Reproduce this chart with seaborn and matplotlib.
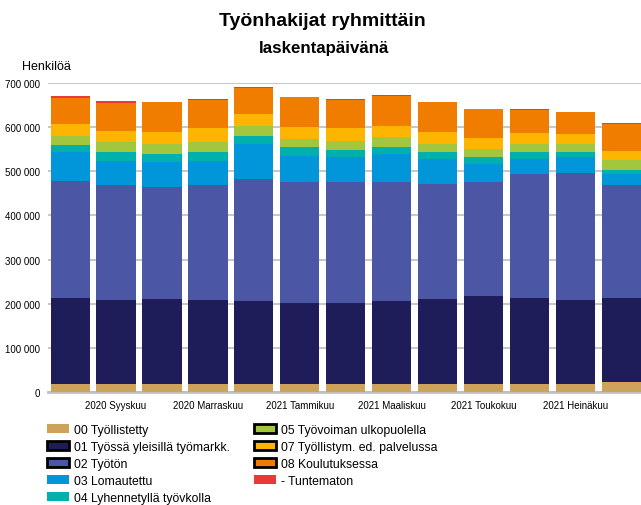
import matplotlib
matplotlib.use("Agg")
import matplotlib.pyplot as plt
from matplotlib.patches import Patch
import seaborn as sns
import numpy as np

# Data (persons)
months = ["2020 Elokuu", "2020 Syyskuu", "2020 Lokakuu", "2020 Marraskuu", "2020 Joulukuu",
          "2021 Tammikuu", "2021 Helmikuu", "2021 Maaliskuu", "2021 Huhtikuu", "2021 Toukokuu",
          "2021 Kesäkuu", "2021 Heinäkuu", "2021 Elokuu"]
tyollistetty = [18800, 18800, 18800, 18800, 18800, 18800, 18800, 18800, 18800, 18800, 18800, 18800, 23300]
yleisilla = [194600, 190200, 192200, 190200, 188200, 183200, 183200, 188200, 192200, 199200, 194200, 190200, 189700]
tyoton = [264600, 260000, 254000, 260000, 275000, 274000, 274000, 269000, 260000, 258000, 281000, 288000, 256000]
lomautettu = [66000, 54000, 56000, 54000, 80000, 59000, 57000, 63000, 57000, 41000, 34000, 36000, 25000]
lyhennetty = [16000, 21000, 18000, 21000, 18000, 20000, 15000, 16000, 16000, 16000, 16000, 11000, 10000]
ulkopuolella = [20000, 22000, 23000, 22000, 23000, 18000, 21000, 23000, 18000, 18000, 18000, 18000, 22000]
palvelussa = [27000, 25000, 27000, 31000, 27000, 27000, 28000, 25000, 27000, 25000, 25000, 23000, 20000]
koulutuksessa = [59000, 64000, 68000, 64000, 59000, 68000, 64000, 67500, 68000, 65000, 52000, 49000, 61000]
tuntematon = [4500, 4000, 500, 2000, 2000, 500, 2000, 2500, 500, 500, 2000, 500, 2000]

series = [
    ("00 Työllistetty", tyollistetty, "#cda35c"),
    ("01 Työssä yleisillä työmarkk.", yleisilla, "#1e1d59"),
    ("02 Työtön", tyoton, "#4b56a4"),
    ("03 Lomautettu", lomautettu, "#0096d9"),
    ("04 Lyhennetyllä työvkolla", lyhennetty, "#00b0ac"),
    ("05 Työvoiman ulkopuolella", ulkopuolella, "#a2c63e"),
    ("07 Työllistym. ed. palvelussa", palvelussa, "#fdb500"),
    ("08 Koulutuksessa", koulutuksessa, "#f07d00"),
    ("- Tuntematon", tuntematon, "#e83a36"),
]
edged = {"01 Työssä yleisillä työmarkk.", "02 Työtön", "05 Työvoiman ulkopuolella",
         "07 Työllistym. ed. palvelussa", "08 Koulutuksessa"}

sns.set_style("white")
plt.rcParams["font.family"] = ["Liberation Sans", "DejaVu Sans"]
plt.rcParams["text.color"] = "black"
plt.rcParams["xtick.color"] = "black"
plt.rcParams["ytick.color"] = "black"

fig = plt.figure(figsize=(6.41, 5.06), dpi=100)
ax = fig.add_axes([48 / 641, 113 / 506, 593 / 641, 309 / 506])

bottom = np.zeros(len(months))
for name, vals, col in series:
    sns.barplot(x=months, y=vals, bottom=bottom, color=col, width=0.85,
                linewidth=0, saturation=1, ax=ax, zorder=3)
    bottom += np.array(vals)

ax.set_xlim(-0.48, 12.42)
ax.set_ylim(0, 700000)
ax.set_yticks(range(0, 700001, 100000))
ax.set_yticklabels([f"{v:,}".replace(",", " ") for v in range(0, 700001, 100000)], fontsize=7)
ax.set_xticks(range(1, 13, 2))
ax.set_xticklabels([months[i] for i in range(1, 13, 2)], fontsize=7)
ax.tick_params(axis="x", length=0, pad=6)
ax.tick_params(axis="y", length=0, pad=6)
ax.yaxis.grid(True, color="#c8c8c8", linewidth=1.5, zorder=0)
ax.set_axisbelow(True)
ax.set_xlabel("")
ax.set_ylabel("")
for s in ["top", "right", "left"]:
    ax.spines[s].set_visible(False)
ax.spines["bottom"].set_color("#c0c0c0")
ax.spines["bottom"].set_linewidth(2)

fig.text(322 / 641, 1 - 21 / 506, "Työnhakijat ryhmittäin", ha="center", va="center",
         fontsize=14, fontweight="bold")
fig.text(324 / 641, 1 - 48 / 506, "laskentapäivänä", ha="center", va="center",
         fontsize=12.2, fontweight="bold")
fig.text(22 / 641, 1 - 67 / 506, "Henkilöä", ha="left", va="center", fontsize=9)

handles = []
for name, vals, col in series:
    if name in edged:
        handles.append(Patch(facecolor=col, edgecolor="black", linewidth=2, label=name))
    else:
        handles.append(Patch(facecolor=col, edgecolor="none", label=name))
fig.legend(handles=handles, ncol=2, loc="upper left", bbox_to_anchor=(47 / 641, 1 - 425 / 506),
           frameon=False, fontsize=8.8, handlelength=1.8, handleheight=0.72,
           handletextpad=0.4, columnspacing=2.0, labelspacing=0.4, borderaxespad=0,
           borderpad=0)

fig.savefig("out.png", dpi=100)
